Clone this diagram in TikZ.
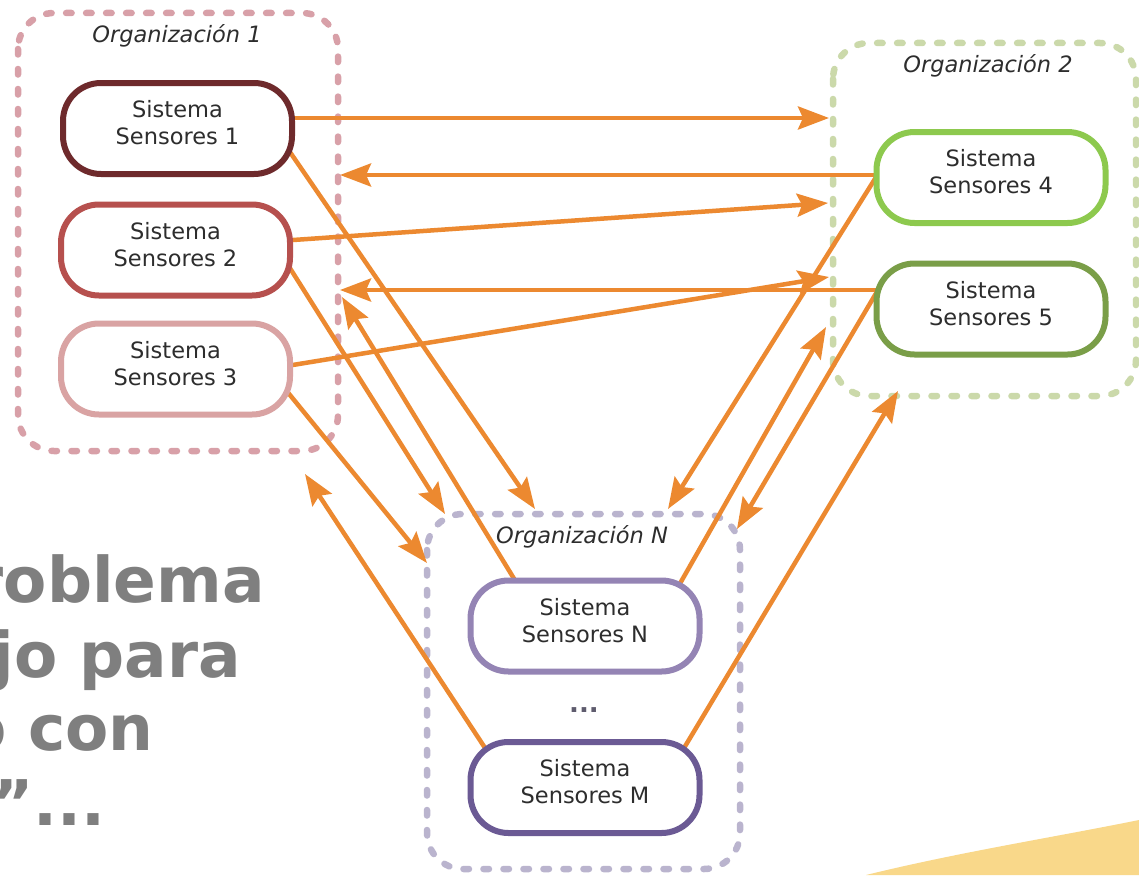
\documentclass[tikz,border=0pt]{standalone}
\usepackage{fontspec}
\setmainfont{DejaVu Sans}
\usetikzlibrary{arrows.meta,backgrounds}
\definecolor{arrc}{RGB}{236,137,48}
\definecolor{cA}{RGB}{110,42,44}
\definecolor{cB}{RGB}{182,80,78}
\definecolor{cC}{RGB}{217,163,163}
\definecolor{cD}{RGB}{141,201,78}
\definecolor{cE}{RGB}{122,158,72}
\definecolor{cN}{RGB}{148,132,180}
\definecolor{cM}{RGB}{107,90,148}
\definecolor{oA}{RGB}{216,160,168}
\definecolor{oB}{RGB}{203,217,170}
\definecolor{oN}{RGB}{186,180,206}
\definecolor{txt}{RGB}{45,45,45}
\definecolor{biggray}{RGB}{127,127,127}
\definecolor{gold}{RGB}{249,216,138}
\begin{document}
\begin{tikzpicture}[x=1pt,y=-1pt,
  sysbox/.style={draw=#1, line width=6pt, rounded corners=38pt, fill=white,
    minimum width=229pt, minimum height=91pt, inner sep=0pt, align=center,
    text=txt, font=\fontsize{22.5}{27}\selectfont, text depth=12pt},
  orgbox/.style={draw=#1, line width=6.5pt, dash pattern=on 5.5pt off 14.5pt,
    line cap=round, rounded corners=36pt},
  orglabel/.style={anchor=base, inner sep=0pt, text=txt,
    font=\itshape\fontsize{22.5}{26}\selectfont},
  bigtxt/.style={anchor=base east, inner sep=0pt, text=biggray,
    font=\bfseries\fontsize{63}{75}\selectfont},
  arr/.style={draw=arrc, line width=4.5pt,
    -{Stealth[length=31pt,width=23pt,inset=5pt]}}
]
\useasboundingbox (0,0) rectangle (1139,875);

% big text
\node[bigtxt] (b1) at (265,602) {roblema};
\node[bigtxt] (b2) at (241,677) {jo para};
\node[bigtxt] (b3) at (154,750) {o con};
\node[bigtxt] (b4) at (106,825) {”...};

% systems
\node[sysbox=cA] (s1) at (177.5,128.5) {Sistema\\Sensores 1};
\node[sysbox=cB] (s2) at (175.5,250) {Sistema\\Sensores 2};
\node[sysbox=cC] (s3) at (175.5,369) {Sistema\\Sensores 3};
\node[sysbox=cD] (s4) at (991,177.5) {Sistema\\Sensores 4};
\node[sysbox=cE] (s5) at (991,309) {Sistema\\Sensores 5};
\node[sysbox=cN] (sn) at (585,626) {Sistema\\Sensores N};
\node[sysbox=cM] (sm) at (585,787.5) {Sistema\\Sensores M};

% labels
\node[orglabel] (l1) at (177,43) {Organización 1};
\node[orglabel] (l2) at (988,72) {Organización 2};
\node[orglabel] (ln) at (582,543) {Organización N};
\node[anchor=base, inner sep=0pt, text={rgb,255:red,95;green,92;blue,110},
  font=\bfseries\fontsize{26}{30}\selectfont] (dots) at (584,712) {...};

% arrow tips
\coordinate (t1) at (829,118);
\coordinate (t2) at (340,175);
\coordinate (t3) at (828,203);
\coordinate (t4) at (340,290);
\coordinate (t5) at (829,277);
\coordinate (t6) at (535,509);
\coordinate (t7) at (445,514);
\coordinate (t8) at (427,563);
\coordinate (t9) at (342,297);
\coordinate (t10) at (305,474);
\coordinate (t11) at (668,509);
\coordinate (t12) at (826,327);
\coordinate (t13) at (737,529);
\coordinate (t14) at (898,391);

\begin{scope}[on background layer]
\fill[white] (0,0) rectangle (1139,875);
% yellow corner
\fill[gold] (866,875) .. controls (960,852) and (1050,838) .. (1139,820) -- (1139,875) -- cycle;

\draw[orgbox=oA] (18,13) rectangle (338,451);
\draw[orgbox=oB] (833,43) rectangle (1136,396);
\draw[orgbox=oN] (427,514) rectangle (740,869);

\draw[arr] ([shift={(107.5,-10.5)}]s1.center) -- (t1);
\draw[arr] ([shift={(-108,-2.5)}]s4.center) -- (t2);
\draw[arr] ([shift={(107.5,-9.3)}]s2.center) -- (t3);
\draw[arr] ([shift={(-108,-19)}]s5.center) -- (t4);
\draw[arr] ([shift={(107.5,-2.4)}]s3.center) -- (t5);
\draw[arr] ([shift={(106.8,15.3)}]s1.center) -- (t6);
\draw[arr] ([shift={(109.5,10.3)}]s2.center) -- (t7);
\draw[arr] ([shift={(105,14.4)}]s3.center) -- (t8);
\draw[arr] ([shift={(-64.2,-36.2)}]sn.center) -- (t9);
\draw[arr] ([shift={(-93.7,-30)}]sm.center) -- (t10);
\draw[arr] ([shift={(-111.6,-5.7)}]s4.center) -- (t11);
\draw[arr] ([shift={(89.6,-33)}]sn.center) -- (t12);
\draw[arr] ([shift={(-109.9,-24.3)}]s5.center) -- (t13);
\draw[arr] ([shift={(94.3,-31.6)}]sm.center) -- (t14);
\end{scope}
\end{tikzpicture}
\end{document}
